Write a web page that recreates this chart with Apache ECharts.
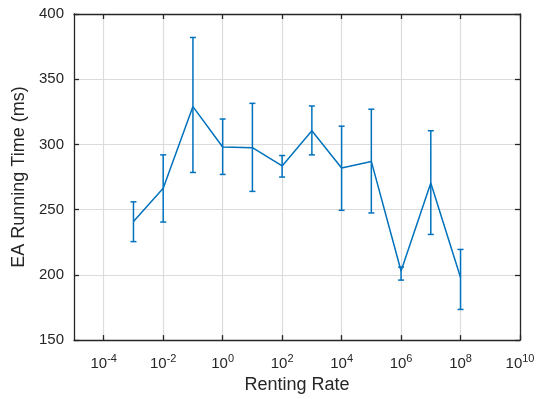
<!DOCTYPE html>
<html>
<head>
<meta charset="utf-8">
<script src="https://cdn.jsdelivr.net/npm/echarts@6/dist/echarts.min.js"></script>
<style>
  html, body { margin: 0; padding: 0; background: #fff; }
  #chart { width: 538px; height: 399px; }
</style>
</head>
<body>
<div id="chart"></div>
<script>
// renting rate (x, log scale) and running time stats
var rates = [1e-3, 1e-2, 1e-1, 1e0, 1e1, 1e2, 1e3, 1e4, 1e5, 1e6, 1e7, 1e8];
var meanTime = [241, 266.5, 329, 298, 297.5, 283.5, 310.5, 282, 287, 203, 270.5, 198];
var upperTime = [256, 292, 382, 319.5, 331.5, 291.5, 329.5, 314, 327, 206, 310.5, 219.5];
var lowerTime = [225.5, 240.5, 278.5, 277, 264, 275, 292, 249.5, 247.5, 196, 231, 173.5];

// x axis runs over decades 10^-5 .. 10^10, labels every other decade
var exponents = [-5, -4, -3, -2, -1, 0, 1, 2, 3, 4, 5, 6, 7, 8, 9, 10];
var yTicks = [150, 200, 250, 300, 350, 400];

var expCats = exponents.map(function(e) { return String(e); });
function catOf(r) { return String(Math.round(Math.log10(r))); }
function evenOnly(index, value) { return Number(value) % 2 === 0; }

var lineColor = '#0072BD';
var axisColor = '#262626';
var gridColor = '#dcdcdc';
var font = 'Liberation Sans, Arial, Helvetica, sans-serif';

var lineData = rates.map(function(r, i) { return [catOf(r), meanTime[i]]; });
var errData = rates.map(function(r, i) { return [catOf(r), lowerTime[i], upperTime[i]]; });

var myChart = echarts.init(document.getElementById('chart'));
var option = {
    animation: false,
    grid: { left: 74, right: 18, top: 14, bottom: 58 },
    xAxis: [{
        type: 'category',
        data: expCats,
        boundaryGap: false,
        name: 'Renting Rate',
        nameLocation: 'middle',
        nameGap: 34,
        nameTextStyle: { color: axisColor, fontSize: 18, fontFamily: font },
        axisLine: { lineStyle: { color: axisColor, width: 1.3 } },
        axisTick: { inside: true, length: 5, interval: evenOnly, lineStyle: { color: axisColor, width: 1.3 } },
        splitLine: { show: true, interval: evenOnly, lineStyle: { color: gridColor, width: 1.2 } },
        axisLabel: {
            interval: evenOnly,
            margin: 13,
            color: axisColor,
            fontFamily: font,
            formatter: function(v) { return '{b|10}{s|' + v + '}'; },
            rich: {
                b: { fontSize: 15, fontFamily: font, color: axisColor },
                s: { fontSize: 11, fontFamily: font, color: axisColor, padding: [0, 0, 10, 0] }
            }
        }
    }, {
        type: 'category',
        data: expCats,
        boundaryGap: false,
        position: 'top',
        axisLine: { lineStyle: { color: axisColor, width: 1.3 } },
        axisTick: { inside: true, length: 5, interval: evenOnly, lineStyle: { color: axisColor, width: 1.3 } },
        axisLabel: { show: false },
        splitLine: { show: false }
    }],
    yAxis: [{
        type: 'value',
        min: yTicks[0],
        max: yTicks[yTicks.length - 1],
        interval: 50,
        name: 'EA Running Time (ms)',
        nameLocation: 'middle',
        nameGap: 43,
        nameTextStyle: { color: axisColor, fontSize: 18, fontFamily: font },
        axisLine: { show: true, lineStyle: { color: axisColor, width: 1.3 } },
        axisTick: { show: true, inside: true, length: 5, lineStyle: { color: axisColor, width: 1.3 } },
        splitLine: { show: true, lineStyle: { color: gridColor, width: 1.2 } },
        axisLabel: { color: axisColor, fontSize: 15, fontFamily: font, margin: 10 }
    }, {
        type: 'value',
        min: yTicks[0],
        max: yTicks[yTicks.length - 1],
        interval: 50,
        position: 'right',
        axisLine: { show: true, lineStyle: { color: axisColor, width: 1.3 } },
        axisTick: { show: true, inside: true, length: 5, lineStyle: { color: axisColor, width: 1.3 } },
        axisLabel: { show: false },
        splitLine: { show: false }
    }],
    series: [{
        name: 'mean',
        type: 'line',
        data: lineData,
        symbol: 'none',
        lineStyle: { color: lineColor, width: 1.5 },
        z: 3
    }, {
        name: 'errorbar',
        type: 'custom',
        data: errData,
        encode: { x: 0, y: [1, 2] },
        renderItem: function(params, api) {
            var x = api.value(0);
            var lo = api.coord([x, api.value(1)]);
            var hi = api.coord([x, api.value(2)]);
            var cap = 3;
            var style = { stroke: lineColor, lineWidth: 1.5, fill: null };
            return {
                type: 'group',
                children: [
                    { type: 'line', shape: { x1: lo[0], y1: lo[1], x2: hi[0], y2: hi[1] }, style: style },
                    { type: 'line', shape: { x1: lo[0] - cap, y1: lo[1], x2: lo[0] + cap, y2: lo[1] }, style: style },
                    { type: 'line', shape: { x1: hi[0] - cap, y1: hi[1], x2: hi[0] + cap, y2: hi[1] }, style: style }
                ]
            };
        },
        z: 4
    }]
};
myChart.setOption(option, true);
</script>
</body>
</html>
